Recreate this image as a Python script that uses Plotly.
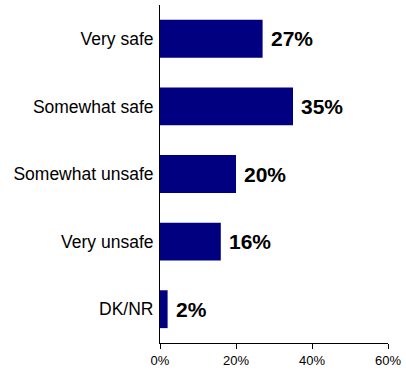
import plotly.graph_objects as go

categories = ["Very safe", "Somewhat safe", "Somewhat unsafe", "Very unsafe", "DK/NR"]
values = [27, 35, 20, 16, 2]
labels = ["27%", "35%", "20%", "16%", "2%"]
x_ticks = [0, 20, 40, 60]
x_tick_text = ["0%", "20%", "40%", "60%"]

fig = go.Figure(go.Bar(
    y=categories, x=values, orientation="h",
    marker=dict(color="#000080", line=dict(width=0)),
    cliponaxis=False, hoverinfo="skip",
))

for cat, val, lab in zip(categories, values, labels):
    fig.add_annotation(
        x=val, y=cat, text=lab, showarrow=False,
        xanchor="left", yanchor="middle", xshift=6,
        font=dict(family="Liberation Sans", size=21, color="black", weight="bold"),
    )

fig.update_layout(
    width=406, height=373,
    margin=dict(l=160, r=16, t=5, b=30),
    paper_bgcolor="white", plot_bgcolor="white",
    bargap=0.44, showlegend=False,
    font=dict(family="Liberation Sans", color="black"),
)
fig.update_xaxes(
    range=[0, 60], tickvals=x_ticks, ticktext=x_tick_text,
    ticks="outside", ticklen=5, tickcolor="black",
    showline=True, linecolor="black", linewidth=1,
    showgrid=False, zeroline=False,
    tickfont=dict(size=13, color="black"),
)
fig.update_yaxes(
    categoryorder="array", categoryarray=categories[::-1],
    showline=True, linecolor="black", linewidth=1,
    showgrid=False, ticks="", ticklabelstandoff=2,
    tickfont=dict(size=17.5, color="black", family="Liberation Sans"),
)

fig.write_html(
    "out.html",
    config={"displayModeBar": False, "staticPlot": True},
    post_script="document.body.style.margin='0';document.body.style.padding='0';",
)
